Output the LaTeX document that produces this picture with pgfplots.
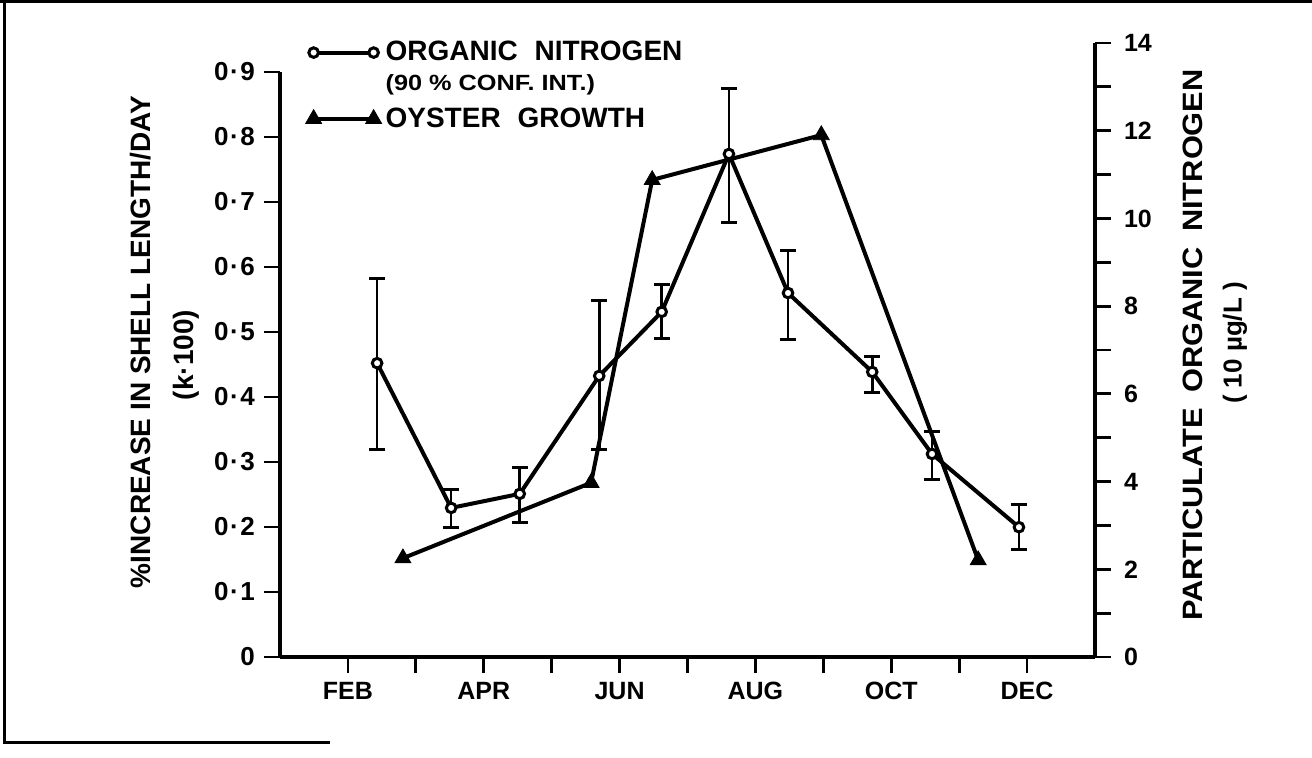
\documentclass[border=0pt]{standalone}
\usepackage{pgfplots}
\pgfplotsset{compat=1.18}
\usepackage{fontspec}
\setmainfont{Liberation Sans}

\pgfplotstableread{
x      y      ep    em
2.43   6.70   1.94  1.96
3.52   3.40   0.41  0.44
4.53   3.72   0.59  0.66
5.70   6.41   1.71  1.67
6.62   7.87   0.63  0.60
7.61   11.47  1.50  1.57
8.48   8.30   0.98  1.05
9.72   6.50   0.36  0.48
10.60  4.63   0.52  0.59
11.88  2.96   0.51  0.52
}\nitrogen

\pgfplotstableread{
x      y
2.81   0.152
5.58   0.268
6.48   0.734
8.97   0.803
11.28  0.149
}\oyster

\newcommand{\dd}[2]{#1\kern0.8pt·\kern0.8pt#2}

\begin{document}
\begin{tikzpicture}[font=\bfseries]
\useasboundingbox (-140pt,-50pt) rectangle (516pt,328.5pt);
% border of the scanned figure
\draw[line width=1.2pt] (-140pt,327.8pt) -- (516pt,327.8pt);
\draw[line width=1.5pt] (-137.5pt,328.5pt) -- (-137.5pt,-42.5pt) -- (25pt,-42.5pt);

\pgfplotsset{
  common/.style={
    scale only axis, width=407.5pt, xmin=1, xmax=13, ymin=0,
    at={(0pt,0pt)}, anchor=south west,
    tick align=outside, major tick length=8pt, minor tick length=8pt,
    every tick/.append style={black, line width=1.4pt},
    axis line style={-, line width=2pt},
    tick label style={font=\fontsize{12.5}{12.5}\selectfont\bfseries},
    clip=false,
  }
}

\begin{axis}[common, height=292.5pt, ymax=0.9,
  axis x line*=bottom, axis y line*=left,
  xtick={2,3,4,5,6,7,8,9,10,11,12},
  xticklabels={FEB,,APR,,JUN,,AUG,,OCT,,DEC},
  x tick label style={yshift=-1pt},
  ytick={0,0.1,0.2,0.3,0.4,0.5,0.6,0.7,0.8,0.9},
  yticklabels={0,\dd01,\dd02,\dd03,\dd04,\dd05,\dd06,\dd07,\dd08,\dd09},
  y tick label style={font=\fontsize{13}{13}\selectfont\bfseries, xshift=-1pt},
  legend style={draw=none, fill=none, at={(0.031,1.06)}, anchor=north west,
    font=\fontsize{14}{14}\selectfont\bfseries, row sep=1.2pt, inner sep=0pt,
    cells={anchor=west}},
  legend image code/.code={\draw[mark repeat=2, mark phase=1, #1] plot coordinates {(0pt,0pt) (15pt,0pt) (30pt,0pt)};},
]
\addlegendimage{line width=2pt, mark=*, mark size=2.4pt, mark options={fill=white, line width=1.5pt}}
\addlegendentry{ORGANIC\hspace{0.6em}NITROGEN}
\addlegendimage{empty legend}
\addlegendentry{\raisebox{2pt}{\fontsize{11}{11}\selectfont\scalebox{1.15}[1]{(90 \% CONF. INT.)}}}
\addplot[line width=2pt, mark=triangle*, mark size=4.6pt, mark options={line width=0.4pt}] table[x=x, y=y] {\oyster};
\addlegendentry{OYSTER\hspace{0.6em}GROWTH}
\end{axis}

\begin{axis}[common, height=307pt, ymax=14,
  axis x line=none, axis y line*=right,
  ytick={0,2,4,6,8,10,12,14},
  minor ytick={1,3,5,7,9,11,13},
  yticklabels={0,2,4,6,8,10,12,14},
  y tick label style={xshift=3pt},
]
\addplot[line width=2pt, mark=*, mark size=2.4pt,
  mark options={fill=white, line width=1.5pt},
  error bars/.cd, y dir=both, y explicit,
  error bar style={line width=1.3pt},
  error mark options={rotate=90, mark size=4pt, line width=1.5pt}]
  table[x=x, y=y, y error plus=ep, y error minus=em] {\nitrogen};
\end{axis}

\node[rotate=90, font=\fontsize{14}{14}\selectfont\bfseries] at (-69.5pt,157.5pt) {\%INCREASE IN SHELL LENGTH/DAY};
\node[rotate=90, font=\fontsize{14}{14}\selectfont\bfseries] at (-47pt,151pt) {(k·100)};
\node[rotate=90, font=\fontsize{14}{14}\selectfont\bfseries] at (456.5pt,156pt) {\scalebox{1.1}[1]{PARTICULATE\hspace{0.5em}ORGANIC\hspace{0.5em}NITROGEN}};
\node[rotate=90, font=\fontsize{13}{13}\selectfont\bfseries] at (477.5pt,157pt) {( 10 µg/L )};
\end{tikzpicture}
\end{document}
